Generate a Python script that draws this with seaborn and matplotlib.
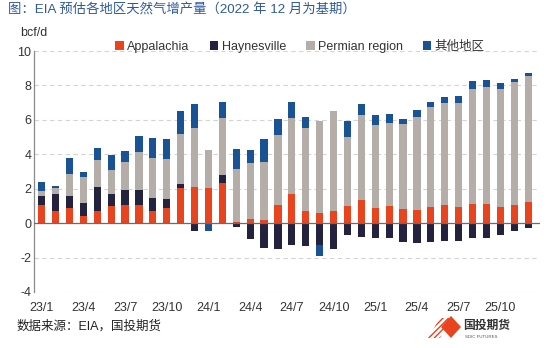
import numpy as np
import pandas as pd
import matplotlib
matplotlib.use("Agg")
import matplotlib.pyplot as plt
from matplotlib.patches import Patch, Polygon
import seaborn as sns

sns.set_theme(style="white")
plt.rcParams["font.family"] = ["Liberation Sans", "Noto Sans CJK SC"]

# Monthly categories, 2023/1 .. 2025/12
months = [f"{y}/{m}" for y in (23, 24, 25) for m in range(1, 13)]

# Production change vs. Dec-2022 baseline (bcf/d)
appalachia = [1.05, 0.68, 0.90, 0.43, 0.72, 0.97, 1.06, 1.03, 0.70, 0.89, 2.03, 2.10,
              2.03, 2.32, 0.05, 0.23, 0.19, 1.06, 1.72, 0.68, 0.58, 0.72, 0.97, 1.35,
              0.87, 0.97, 0.83, 0.75, 0.93, 1.06, 0.91, 1.14, 1.14, 0.93, 1.04, 1.20]
haynesville = [0.50, 1.04, 0.68, 0.73, 1.40, 0.70, 0.84, 0.87, 0.77, 0.50, 0.25, -0.45,
               0.00, 0.47, -0.20, -0.93, -1.45, -1.50, -1.26, -1.30, -1.26, -1.50, -0.70, -0.81,
               -0.89, -0.85, -1.12, -1.16, -1.12, -1.06, -1.06, -0.89, -0.89, -0.70, -0.46, -0.31]
permian = [0.33, 0.31, 1.30, 1.50, 1.57, 1.40, 1.64, 2.24, 2.34, 2.34, 2.90, 3.43,
           2.21, 3.30, 3.10, 3.25, 3.37, 4.07, 4.41, 4.83, 5.36, 5.82, 4.04, 4.94,
           4.84, 4.87, 4.93, 5.42, 5.84, 5.90, 6.05, 6.64, 6.75, 6.88, 7.18, 7.37]
other = [0.52, 0.14, 0.90, 0.30, 0.70, 0.90, 0.66, 0.91, 1.16, 1.16, 1.36, 1.37,
         -0.48, 0.93, 1.18, 0.74, 1.31, 0.92, 0.89, 0.68, -0.62, 0.00, 0.93, 0.62,
         0.56, 0.49, 0.27, 0.43, 0.25, 0.35, 0.41, 0.50, 0.43, 0.33, 0.16, 0.13]

series = ["Appalachia", "Haynesville", "Permian region", "其他地区"]
colors = ["#E8441E", "#24233F", "#B5ADA7", "#1A5296"]
values = [appalachia, haynesville, permian, other]

W, H = 550, 348
fig = plt.figure(figsize=(W / 100, H / 100), dpi=100)
ax = fig.add_axes([34 / W, 56 / H, 506 / W, 241 / H])

# stacked bars: positives build upward from 0, negatives downward
pos_base = np.zeros(len(months))
neg_base = np.zeros(len(months))
for name, vals, col in zip(series, values, colors):
    v = np.asarray(vals, dtype=float)
    pos = np.where(v > 0, v, 0.0)
    neg = np.where(v < 0, v, 0.0)
    for part, base in ((pos, pos_base), (neg, neg_base)):
        df = pd.DataFrame({"month": months, "val": part})
        sns.barplot(data=df, x="month", y="val", order=months, color=col,
                    saturation=1, width=0.52, bottom=base, ax=ax, zorder=3,
                    linewidth=0)
    pos_base = pos_base + pos
    neg_base = neg_base + neg

ax.set_xlim(-0.55, 35.85)
ax.set_ylim(-4, 10)
ax.set_yticks(np.arange(-4, 11, 2))
ax.set_yticklabels([str(t) for t in range(-4, 11, 2)])
ax.set_xticks(range(0, 36, 3))
ax.set_xticklabels(months[::3])
ax.set_xlabel("")
ax.set_ylabel("")
ax.tick_params(axis="both", length=0, labelsize=9, colors="#333333")
ax.tick_params(axis="y", pad=2)
ax.tick_params(axis="x", pad=7)

for y in range(-4, 11, 2):
    if y != 0:
        ax.axhline(y, color="#D4D4D4", lw=0.8, ls=(0, (4, 3)), zorder=1)
ax.axhline(0, color="#6B6B6B", lw=0.9, zorder=4)

for s in ("top", "right", "bottom"):
    ax.spines[s].set_visible(False)
ax.spines["left"].set_color("#8A8A8A")
ax.spines["left"].set_linewidth(0.9)

handles = [Patch(facecolor=c, edgecolor="none") for c in colors]
fig.legend(handles, series, loc="center", bbox_to_anchor=(300 / W, 1 - 47 / H),
           ncol=4, frameon=False, fontsize=9, handlelength=0.7, handleheight=0.7,
           handletextpad=0.25, columnspacing=1.6, labelcolor="#333333")

fig.text(8 / W, 1 - 10 / H, "图：EIA 预估各地区天然气增产量（2022 年 12 月为基期）",
         fontsize=9.6, color="#2F5A9A", va="center", ha="left")
fig.text(20 / W, 1 - 33 / H, "bcf/d", fontsize=9, color="#333333", va="center")
fig.text(17 / W, 1 - 326 / H, "数据来源：EIA，国投期货", fontsize=9,
         color="#222222", va="center", ha="left")


def fxy(px, py):
    return (px / W, 1 - py / H)


# company mark: striped wing + red diamond + name
stripes = Polygon([fxy(428, 338), fxy(440, 318), fxy(450, 318), fxy(440, 338)],
                  closed=True, transform=fig.transFigure, facecolor="none",
                  edgecolor="#E8441E", hatch="//////", lw=0)
fig.patches.append(stripes)
diamond = Polygon([fxy(441, 327), fxy(451, 316), fxy(461, 327), fxy(451, 338)],
                  closed=True, transform=fig.transFigure, facecolor="#E8441E",
                  edgecolor="none")
fig.patches.append(diamond)
fig.text(463 / W, 1 - 326 / H, "国投期货", fontsize=8.5, fontweight="bold",
         color="#333333", va="center", ha="left")
fig.text(465 / W, 1 - 337 / H, "SDIC FUTURES", fontsize=3.2, color="#555555",
         va="center", ha="left")

fig.savefig("out.png", dpi=100, facecolor="white")
